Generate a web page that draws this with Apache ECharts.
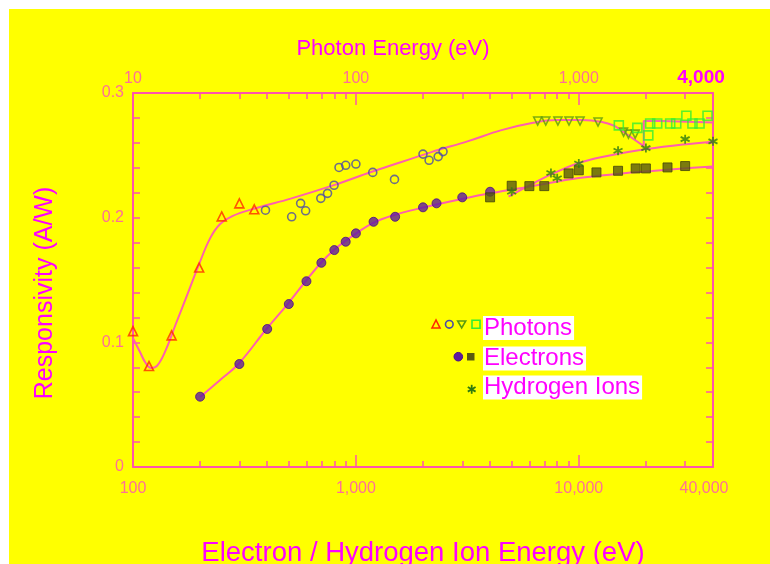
<!DOCTYPE html>
<html><head><meta charset="utf-8">
<script src="https://cdn.jsdelivr.net/npm/echarts@6/dist/echarts.min.js"></script>
<style>
html,body{margin:0;padding:0;background:#fff;width:770px;height:564px;overflow:hidden}
#c{position:absolute;left:9px;top:9px;width:761px;height:555px;background:#ffff00}
</style></head><body><div id="c"></div>
<script>
// ---------- tick labels ----------
const bottomLabelValues = [100, 1000, 10000, 40000];
const bottomMinorTicks = [200,300,400,500,600,700,800,900,2000,3000,4000,5000,6000,7000,8000,9000,20000,30000];
const bottomMajorTicks = [1000, 10000];
const topLabelValues = [10, 100, 1000, 4000];
const topMinorTicks = [20,30,40,50,60,70,80,90,200,300,400,500,600,700,800,900,2000,3000];
const topMajorTicks = [100, 1000];

// ---------- photon data (photon energy, eV ; responsivity A/W) ----------
const photonTriangles = [[10,0.109],[11.8,0.081],[14.9,0.1056],[19.8,0.160],[25,0.201],[30,0.2115],[35,0.2067]];
const photonCircles = [[39.3,0.206],[51.5,0.2007],[56.5,0.2115],[59.5,0.2055],[69.6,0.2155],[74.6,0.2195],[79.8,0.226],[84,0.2403],[90,0.242],[100,0.243],[119,0.2363],[149,0.2307],[200,0.251],[213,0.246],[234,0.249],[246,0.253]];
const photonDownTriangles = [[654,0.2775],[711,0.2775],[806,0.2775],[904,0.2775],[1013,0.2775],[1220,0.2767],[1588,0.2686],[1670,0.267],[1790,0.267]];
const photonSquares = [[1512,0.274],[1831,0.272],[2050,0.266],[2090,0.2755],[2248,0.2755],[2570,0.2755],[2736,0.2755],[3038,0.2817],[3235,0.2755],[3480,0.2755],[3780,0.2817]];
const photonCurveSmooth = [[10,0.1034],[10.75,0.0922],[11.4,0.0834],[12.05,0.0794],[12.8,0.081],[13.9,0.0922],[15.5,0.1139],[17.7,0.1403],[19.8,0.1628],[22.2,0.1836],[24.6,0.1949],[27.9,0.2013],[35.8,0.2077],[51,0.2153],[79.6,0.2261],[117,0.2366],[160,0.2446],[218,0.2526],[319,0.2614],[450,0.2702],[616,0.2759],[797,0.2783],[1030,0.2783],[1271,0.2767],[1453,0.2735]];
const photonCurveStep = [[1453,0.2735],[1956,0.2574],[1956,0.2775],[2370,0.2775],[4000,0.2763]];

// ---------- electron data (electron energy, eV) ----------
const electronCircles = [[200,0.0564],[300,0.0826],[400,0.1107],[500,0.1307],[600,0.149],[700,0.1638],[800,0.174],[900,0.1807],[1000,0.1874],[1200,0.1967],[1500,0.2007],[2000,0.2083],[2300,0.2115],[3000,0.2163],[4000,0.2208]];
const electronSquares = [[4000,0.2163],[5000,0.2256],[6000,0.2253],[7000,0.2253],[9000,0.2355],[10000,0.238],[12000,0.2363],[15000,0.2376],[18000,0.2395],[20000,0.2395],[25000,0.2403],[30000,0.2414]];
const electronCurve = [[200,0.0561],[246,0.0698],[297,0.0826],[397,0.1107],[494,0.1307],[596,0.1492],[696,0.1636],[796,0.174],[883,0.1804],[1000,0.1872],[1190,0.1957],[1485,0.2021],[1960,0.2077],[2980,0.2149],[4050,0.2197],[6160,0.2253],[10000,0.2318],[15600,0.2354],[21300,0.2374],[29300,0.2394],[40000,0.241]];

// ---------- hydrogen ion data (ion energy, eV) ----------
const hydrogenStars = [[5000,0.2208],[7500,0.2358],[8000,0.2316],[10000,0.2435],[15000,0.2537],[20000,0.2558],[30000,0.263],[40000,0.2612]];
const hydrogenCurve = [[4840,0.2169],[6160,0.2269],[7560,0.2349],[10320,0.2446],[14870,0.251],[20200,0.255],[29300,0.2586],[40000,0.2609]];

const FONT = '"Liberation Sans", Arial, sans-serif';
const AXIS = '#ff55aa';
const LABEL = '#ff6f96';
const TITLE = '#ff00ff';
const CURVE = '#ff5fae';
const STAR = 'path://M0,-5L0,5M-4.33,-2.5L4.33,2.5M-4.33,2.5L4.33,-2.5';

function fmt(v){ return Number(v).toLocaleString('en-US'); }

const chart = echarts.init(document.getElementById('c'));
const baseX = (pos, min, max) => ({
  type: 'log', logBase: 10, min, max, position: pos, gridIndex: 0,
  splitLine: {show: false}, minorSplitLine: {show: false}
});

const option = {
  animation: false,
  backgroundColor: '#ffff00',
  grid: {left: 124, top: 84, right: 57, bottom: 97, containLabel: false, outerBoundsMode: 'none'},
  xAxis: [
    Object.assign(baseX('bottom', 100, 40000), {
      axisLine: {show: true, lineStyle: {color: AXIS, width: 2}},
      axisTick: {show: true, inside: true, length: 6, customValues: bottomMinorTicks, lineStyle: {color: AXIS, width: 1.5}},
      axisLabel: {show: true, customValues: bottomLabelValues, margin: 14, color: LABEL, fontSize: 16, fontFamily: FONT,
        formatter: v => (v >= 40000 ? '{s|' + fmt(v) + '}' : fmt(v)),
        rich: {s: {color: LABEL, fontSize: 16, fontFamily: FONT, padding: [0, 18, 0, 0]}}},
      name: 'Electron / Hydrogen Ion Energy (eV)', nameLocation: 'middle', nameGap: 72,
      nameTextStyle: {color: TITLE, fontSize: 27.5, fontFamily: FONT}
    }),
    Object.assign(baseX('bottom', 100, 40000), {
      axisLine: {show: false},
      axisTick: {show: true, inside: true, length: 12, customValues: bottomMajorTicks, lineStyle: {color: AXIS, width: 1.5}},
      axisLabel: {show: false}
    }),
    Object.assign(baseX('top', 10, 4000), {
      axisLine: {show: true, lineStyle: {color: AXIS, width: 2}},
      axisTick: {show: true, inside: true, length: 6, customValues: topMinorTicks, lineStyle: {color: AXIS, width: 1.5}},
      axisLabel: {show: true, customValues: topLabelValues, margin: 6, color: LABEL, fontSize: 16, fontFamily: FONT,
        formatter: v => (v >= 4000 ? '{b|' + fmt(v) + '}' : fmt(v)),
        rich: {b: {color: TITLE, fontSize: 19, fontWeight: 'bold', fontFamily: FONT, padding: [0, 24, 0, 0]}}},
      name: 'Photon Energy (eV)', nameLocation: 'middle', nameGap: 33,
      nameTextStyle: {color: TITLE, fontSize: 22, fontFamily: FONT, padding: [0, 60, 0, 0]}
    }),
    Object.assign(baseX('top', 10, 4000), {
      axisLine: {show: false},
      axisTick: {show: true, inside: true, length: 12, customValues: topMajorTicks, lineStyle: {color: AXIS, width: 1.5}},
      axisLabel: {show: false}
    })
  ],
  yAxis: [
    {type: 'value', min: 0, max: 0.3, interval: 0.1, position: 'left',
     axisLine: {show: true, lineStyle: {color: AXIS, width: 2}},
     axisTick: {show: true, inside: true, length: 7, lineStyle: {color: AXIS, width: 1.5}},
     minorTick: {show: true, splitNumber: 5, length: 7, lineStyle: {color: AXIS, width: 1.5}},
     splitLine: {show: false},
     axisLabel: {color: LABEL, fontSize: 16, fontFamily: FONT, margin: 9, formatter: v => (v === 0 ? '0' : v.toFixed(1))},
     name: 'Responsivity (A/W)', nameLocation: 'middle', nameGap: 75,
     nameTextStyle: {color: TITLE, fontSize: 25, fontFamily: FONT, padding: [0, 26, 0, 0]}
    },
    {type: 'value', min: 0, max: 0.3, interval: 0.1, position: 'right',
     axisLine: {show: true, lineStyle: {color: AXIS, width: 2}},
     axisTick: {show: true, inside: true, length: 7, lineStyle: {color: AXIS, width: 1.5}},
     minorTick: {show: true, splitNumber: 5, length: 7, lineStyle: {color: AXIS, width: 1.5}},
     splitLine: {show: false}, axisLabel: {show: false}
    }
  ],
  series: [
    {type: 'line', name: 'photon fit', xAxisIndex: 2, yAxisIndex: 0, data: photonCurveSmooth, smooth: 0.4, showSymbol: false, lineStyle: {color: CURVE, width: 2}, z: 1},
    {type: 'line', name: 'photon fit 2', xAxisIndex: 2, yAxisIndex: 0, data: photonCurveStep, smooth: false, showSymbol: false, lineStyle: {color: CURVE, width: 2}, z: 1},
    {type: 'line', name: 'electron fit', xAxisIndex: 0, yAxisIndex: 0, data: electronCurve, smooth: 0.4, showSymbol: false, lineStyle: {color: CURVE, width: 2}, z: 1},
    {type: 'line', name: 'hydrogen fit', xAxisIndex: 0, yAxisIndex: 0, data: hydrogenCurve, smooth: 0.4, showSymbol: false, lineStyle: {color: CURVE, width: 2}, z: 1},
    {type: 'scatter', name: 'Photons A', xAxisIndex: 2, yAxisIndex: 0, data: photonTriangles, symbol: 'triangle', symbolSize: 9,
     itemStyle: {color: 'rgba(255,255,0,0)', borderColor: '#ff2a00', borderWidth: 1.6}, z: 3},
    {type: 'scatter', name: 'Photons B', xAxisIndex: 2, yAxisIndex: 0, data: photonCircles, symbol: 'circle', symbolSize: 8,
     itemStyle: {color: 'rgba(255,255,0,0)', borderColor: '#4a4aa8', borderWidth: 1.6}, z: 3},
    {type: 'scatter', name: 'Photons C', xAxisIndex: 2, yAxisIndex: 0, data: photonDownTriangles, symbol: 'triangle', symbolRotate: 180, symbolSize: 8,
     itemStyle: {color: 'rgba(255,255,0,0)', borderColor: '#5c9a10', borderWidth: 1.6}, z: 3},
    {type: 'scatter', name: 'Photons D', xAxisIndex: 2, yAxisIndex: 0, data: photonSquares, symbol: 'rect', symbolSize: 9,
     itemStyle: {color: 'rgba(255,255,0,0)', borderColor: '#33ee33', borderWidth: 1.6}, z: 3},
    {type: 'scatter', name: 'Electrons A', xAxisIndex: 0, yAxisIndex: 0, data: electronCircles, symbol: 'circle', symbolSize: 9,
     itemStyle: {color: '#5e1aa0', borderColor: '#4a0a8a', borderWidth: 1}, z: 3},
    {type: 'scatter', name: 'Electrons B', xAxisIndex: 0, yAxisIndex: 0, data: electronSquares, symbol: 'rect', symbolSize: 9,
     itemStyle: {color: '#5a5a10', borderColor: '#44440a', borderWidth: 1}, z: 3},
    {type: 'scatter', name: 'Hydrogen Ions', xAxisIndex: 0, yAxisIndex: 0, data: hydrogenStars, symbol: STAR, symbolSize: 9,
     itemStyle: {color: 'rgba(0,0,0,0)', borderColor: '#2f7a10', borderWidth: 1.8}, z: 3}
  ],
  graphic: {elements: [
    {type: 'polygon', shape: {points: [[427,311],[423,319],[431,319]]}, style: {fill: 'none', stroke: '#ff2a00', lineWidth: 1.6}},
    {type: 'circle', shape: {cx: 440.3, cy: 315.3, r: 3.8}, style: {fill: 'none', stroke: '#4a4aa8', lineWidth: 1.6}},
    {type: 'polygon', shape: {points: [[448.7,312],[456.7,312],[452.7,319]]}, style: {fill: 'none', stroke: '#5c9a10', lineWidth: 1.6}},
    {type: 'rect', shape: {x: 463, y: 311.3, width: 8, height: 8}, style: {fill: 'none', stroke: '#33ee33', lineWidth: 1.6}},
    {type: 'circle', shape: {cx: 449.3, cy: 347.7, r: 4.3}, style: {fill: '#5e1aa0', stroke: '#4a0a8a', lineWidth: 1}},
    {type: 'rect', shape: {x: 458, y: 344, width: 7.5, height: 7.5}, style: {fill: '#5a5a10'}},
    {type: 'line', shape: {x1: 462.7, y1: 375.8, x2: 462.7, y2: 384.8}, style: {stroke: '#2f7a10', lineWidth: 1.8}},
    {type: 'line', shape: {x1: 458.8, y1: 378, x2: 466.6, y2: 382.6}, style: {stroke: '#2f7a10', lineWidth: 1.8}},
    {type: 'line', shape: {x1: 458.8, y1: 382.6, x2: 466.6, y2: 378}, style: {stroke: '#2f7a10', lineWidth: 1.8}},
    {type: 'text', x: 474, y: 319, style: {text: 'Photons', fill: TITLE, font: '24px ' + FONT, verticalAlign: 'middle', backgroundColor: '#ffffff', padding: [0, 2, 0, 1]}},
    {type: 'text', x: 474, y: 349.5, style: {text: 'Electrons', fill: TITLE, font: '24px ' + FONT, verticalAlign: 'middle', backgroundColor: '#ffffff', padding: [0, 2, 0, 1]}},
    {type: 'text', x: 474, y: 378.5, style: {text: 'Hydrogen Ions', fill: TITLE, font: '24px ' + FONT, verticalAlign: 'middle', backgroundColor: '#ffffff', padding: [0, 2, 0, 1]}}
  ]}
};
chart.setOption(option);
</script></body></html>
